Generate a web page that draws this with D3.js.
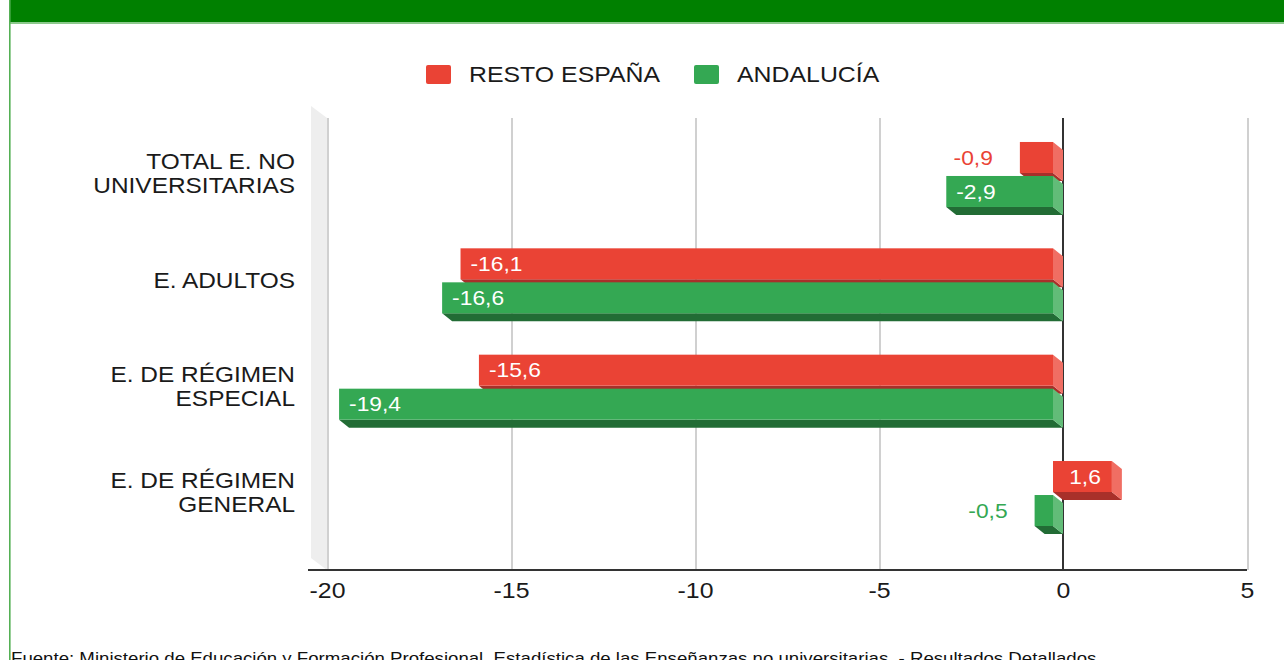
<!DOCTYPE html>
<html>
<head>
<meta charset="utf-8">
<script src="https://cdn.jsdelivr.net/npm/d3@7"></script>
<style>
  html, body { margin: 0; padding: 0; background: #fff; }
  svg { display: block; font-family: "Liberation Sans", Arial, sans-serif; }
</style>
</head>
<body>
<svg id="chart" width="1284" height="660"></svg>
<script>
// ---- data ----
const categories = ["TOTAL E. NO UNIVERSITARIAS", "E. ADULTOS", "E. DE RÉGIMEN ESPECIAL", "E. DE RÉGIMEN GENERAL"];
const categoryLines = [["TOTAL E. NO", "UNIVERSITARIAS"], ["E. ADULTOS"], ["E. DE RÉGIMEN", "ESPECIAL"], ["E. DE RÉGIMEN", "GENERAL"]];
const seriesNames = ["RESTO ESPAÑA", "ANDALUCÍA"];
const restoEspana = [-0.9, -16.1, -15.6, 1.6];
const andalucia = [-2.9, -16.6, -19.4, -0.5];
const xTicks = [-20, -15, -10, -5, 0, 5];
const sourceText = "Fuente: Ministerio de Educación y Formación Profesional. Estadística de las Enseñanzas no universitarias. - Resultados Detallados";

// ---- styles ----
const palette = [
  { front: "#EA4335", side: "#F06E63", bottom: "#A8302A" },
  { front: "#34A853", side: "#62BC78", bottom: "#226C35" }
];
const depth = { dx: 10, dy: 8 };
const wall = { dx: 16, dy: 12 };
const SX = 1.12; // horizontal stretch of the reference lettering

const svg = d3.select("#chart");

function stretched(parent, px, py, sx) {
  return parent.append("text")
    .attr("transform", `translate(${px},${py}) scale(${sx},1)`)
    .attr("x", 0).attr("y", 0);
}

// header band & frame
svg.append("rect").attr("x", 9).attr("y", 0).attr("width", 1275).attr("height", 22).attr("fill", "#008000");
svg.append("rect").attr("x", 9).attr("y", 22).attr("width", 1275).attr("height", 2).attr("fill", "#8cc98c");
svg.append("rect").attr("x", 9).attr("y", 0).attr("width", 1.6).attr("height", 660).attr("fill", "#55b055");

// scales (back plane)
const x = d3.scaleLinear().domain([-20, 5]).range([327, 1247]);
const plotTop = 118, plotBottom = 570;
const y = d3.scaleBand().domain(categories).range([121.3, 546.7]);

// left wall
svg.append("path")
  .attr("d", `M${x(-20) - wall.dx},${plotTop - wall.dy} L${x(-20)},${plotTop} L${x(-20)},${plotBottom} L${x(-20) - wall.dx},${plotBottom - wall.dy} Z`)
  .attr("fill", "#eeeeee");

// gridlines
svg.append("g").selectAll("line").data(xTicks.filter(d => d !== 0)).join("line")
  .attr("x1", d => x(d) + 1).attr("x2", d => x(d) + 1)
  .attr("y1", plotTop).attr("y2", plotBottom)
  .attr("stroke", "#d0d0d0").attr("stroke-width", 2);

// zero line
svg.append("line")
  .attr("x1", x(0)).attr("x2", x(0)).attr("y1", plotTop).attr("y2", plotBottom)
  .attr("stroke", "#333").attr("stroke-width", 2);

// x axis
const xAxis = d3.axisBottom(x).tickValues(xTicks).tickSize(0).tickPadding(12)
  .tickFormat(d => String(d));
const gx = svg.append("g").attr("transform", `translate(0,${plotBottom})`).call(xAxis);
gx.select(".domain").remove();
gx.selectAll("text").attr("font-size", 22).attr("fill", "#1a1a1a")
  .attr("font-family", "Liberation Sans, Arial, sans-serif")
  .attr("transform", `scale(${SX + 0.01},1)`);
svg.append("line").attr("x1", 308).attr("x2", x(5)).attr("y1", plotBottom).attr("y2", plotBottom)
  .attr("stroke", "#333").attr("stroke-width", 2);

// category labels
const catG = svg.append("g");
categories.forEach((c, i) => {
  const lines = categoryLines[i];
  const cy = y(c) + y.bandwidth() / 2 - 1;
  const lh = 24;
  lines.forEach((ln, j) => {
    stretched(catG, 295, cy + (j - (lines.length - 1) / 2) * lh, 1.11)
      .attr("dy", "0.36em")
      .attr("text-anchor", "end")
      .attr("font-size", 22)
      .attr("fill", "#1a1a1a")
      .text(ln);
  });
});

// bars
const barH = 31, gap = 3;
const series = [restoEspana, andalucia];
const barsG = svg.append("g");
categories.forEach((c, i) => {
  const center = y(c) + y.bandwidth() / 2;
  series.forEach((vals, s) => {
    const v = vals[i];
    const col = palette[s];
    const xa = x(Math.min(0, v)) - depth.dx;
    const xb = x(Math.max(0, v)) - depth.dx;
    const y0 = s === 0 ? center - gap / 2 - barH : center + gap / 2;
    const y1 = y0 + barH;
    const g = barsG.append("g");
    // bottom face
    g.append("path")
      .attr("d", `M${xa},${y1} L${xb},${y1} L${xb + depth.dx},${y1 + depth.dy} L${xa + depth.dx},${y1 + depth.dy} Z`)
      .attr("fill", col.bottom);
    // right side face
    g.append("path")
      .attr("d", `M${xb},${y0} L${xb + depth.dx},${y0 + depth.dy} L${xb + depth.dx},${y1 + depth.dy} L${xb},${y1} Z`)
      .attr("fill", col.side);
    // front
    g.append("rect").attr("x", xa).attr("y", y0).attr("width", xb - xa).attr("height", barH)
      .attr("fill", col.front);
    // label
    const label = d3.format(".1f")(v).replace(".", ",").replace("−", "-");
    const w = xb - xa;
    const inside = w > 55;
    let px, anchor, fill;
    if (inside) {
      fill = "#fff";
      if (v < 0) { px = xa + 10; anchor = "start"; }
      else { px = xb - 11; anchor = "end"; }
    } else {
      fill = col.front; anchor = "end"; px = xa - 27;
    }
    stretched(g, px, y0 + barH / 2, 1.14)
      .attr("dy", "0.36em")
      .attr("font-size", 20)
      .attr("text-anchor", anchor)
      .attr("fill", fill)
      .text(label);
  });
});

// legend
const legend = svg.append("g");
const legendItems = [{ name: seriesNames[0], x: 426, tx: 469 }, { name: seriesNames[1], x: 694, tx: 737 }];
legendItems.forEach((it, i) => {
  legend.append("rect").attr("x", it.x).attr("y", 65).attr("width", 25).attr("height", 19)
    .attr("rx", 2).attr("fill", palette[i].front);
  stretched(legend, it.tx, 74.5, 1.13).attr("dy", "0.36em")
    .attr("font-size", 22).attr("fill", "#1a1a1a")
    .text(it.name);
});

// source
stretched(svg, 11, 664, 1.097).attr("font-size", 17).attr("fill", "#111")
  .text(sourceText);
</script>
</body>
</html>
